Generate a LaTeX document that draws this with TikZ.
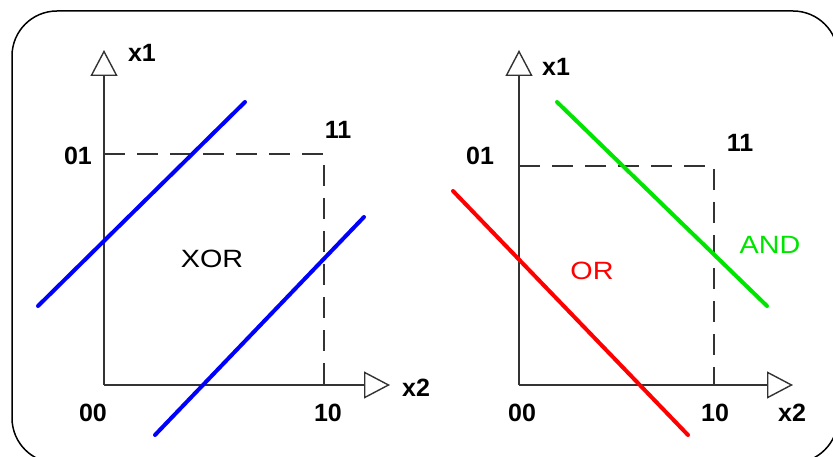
\documentclass[tikz,border=0pt]{standalone}
\usepackage{fontspec}
\setmainfont{Liberation Sans}
\usetikzlibrary{arrows.meta}
\begin{document}
\begin{tikzpicture}[x=1pt,y=-1pt,
  axis/.style={line width=1.7pt, draw=black!80, -{Triangle[open,length=26pt,width=27pt,line width=1.4pt]}},
  guide/.style={line width=1.4pt, draw=black!80, dash pattern=on 21pt off 12pt},
  sep/.style={line width=4pt, line cap=round},
  lbl/.style={inner sep=0pt, font=\fontsize{25}{25}\selectfont\bfseries},
  gate/.style={inner sep=0pt, font=\fontsize{25}{25}\selectfont, xscale=1.15, transform shape}]
\useasboundingbox (0,0) rectangle (833,457);
\draw[line width=1.5pt, rounded corners=45pt] (12,11) rectangle (838,463);
% ---------- left plot (XOR)
\coordinate (Lo) at (104,385);
\coordinate (Ly) at (104,50);
\coordinate (Lx) at (390,385);
\coordinate (L01) at (104,154);
\coordinate (L11) at (324,154);
\coordinate (L10) at (324,385);
\draw[guide] (L01) -- (L11) -- (L10);
\draw[axis] (Lo) -- (Ly);
\draw[axis] (Lo) -- (Lx);
\coordinate (B1a) at (38,306);
\coordinate (B1b) at (245,102);
\coordinate (B2a) at (155,435);
\coordinate (B2b) at (364,217);
\draw[sep, blue] (B1a) -- (B1b);
\draw[sep, blue] (B2a) -- (B2b);
\node[lbl] (lx1) at (142,53) {x1};
\node[lbl] (lx2) at (416,388) {x2};
\node[lbl] (l01) at (78,156) {01};
\node[lbl] (l11) at (338,130) {11};
\node[lbl] (l00) at (93,413) {00};
\node[lbl] (l10) at (328,413) {10};
\node[gate] (xor) at (212,259) {XOR};
% ---------- right plot (OR / AND)
\coordinate (Ro) at (519,385);
\coordinate (Ry) at (519,50);
\coordinate (Rx) at (793,385);
\coordinate (R01) at (519,166);
\coordinate (R11) at (714,166);
\coordinate (R10) at (714,385);
\draw[guide] (R01) -- (R11) -- (R10);
\draw[axis] (Ro) -- (Ry);
\draw[axis] (Ro) -- (Rx);
\coordinate (Ra) at (453,191);
\coordinate (Rb) at (688,435);
\coordinate (Ga) at (557,102);
\coordinate (Gb) at (767,306);
\draw[sep, red] (Ra) -- (Rb);
\draw[sep, green!90!black] (Ga) -- (Gb);
\node[lbl] (rx1) at (556,67) {x1};
\node[lbl] (rx2) at (792,413) {x2};
\node[lbl] (r01) at (480,156) {01};
\node[lbl] (r11) at (740,143) {11};
\node[lbl] (r00) at (522,413) {00};
\node[lbl] (r10) at (715,413) {10};
\node[gate, text=red] (or) at (592,271) {OR};
\node[gate, text=green!90!black] (and) at (770,245) {AND};
\end{tikzpicture}
\end{document}
